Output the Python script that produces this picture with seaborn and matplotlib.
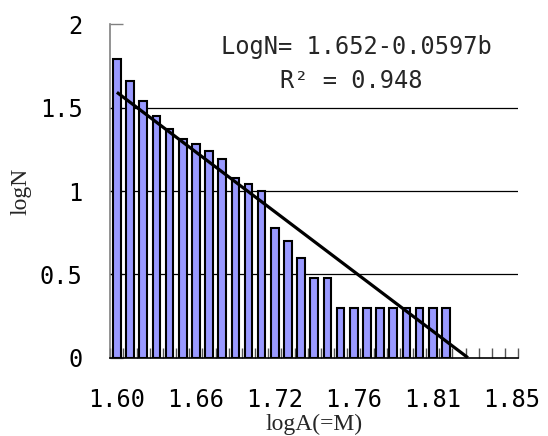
import matplotlib

matplotlib.use("Agg")
import matplotlib.pyplot as plt
import numpy as np
import pandas as pd
import seaborn as sns

# logN per magnitude class, classes beyond the data are empty
log_n = [1.79, 1.66, 1.54, 1.45, 1.37, 1.31, 1.28, 1.24, 1.19, 1.08, 1.04, 1.00,
         0.78, 0.70, 0.60, 0.48, 0.48,
         0.30, 0.30, 0.30, 0.30, 0.30, 0.30, 0.30, 0.30, 0.30]
n_classes = 31
tick_labels = ["1.60", "1.66", "1.72", "1.76", "1.81", "1.85"]
label_every = 6

# trend line from the chart label: LogN = a + b_slope * b
intercept = 1.652
slope = -0.0597
r_squared = 0.948

df = pd.DataFrame({"cls": np.arange(len(log_n)), "logN": log_n})

sns.set_theme(style="white")
mono = ["DejaVu Sans Mono"]
serif = ["Liberation Serif", "DejaVu Serif"]

fig = plt.figure(figsize=(5.48, 4.36), dpi=100)
ax = fig.add_axes([0.2013, 0.1796, 0.7445, 0.7645])

sns.barplot(data=df, x="cls", y="logN", native_scale=True, width=0.58,
            color="#9999FF", edgecolor="black", linewidth=1.5, saturation=1,
            ax=ax, zorder=3)

# trend line, from the first class to where it reaches zero
b = np.linspace(1, -intercept / slope, 50)
ax.plot(b - 1, intercept + slope * b, color="black", lw=2.3, zorder=4,
        solid_capstyle="butt")

ax.set_xlim(-0.5, n_classes - 0.5)
ax.set_ylim(0, 2)

for v in [0.5, 1.0, 1.5]:
    ax.axhline(v, color="black", lw=0.9, zorder=1)

ax.set_yticks([0, 0.5, 1, 1.5, 2])
ax.set_yticklabels(["0", "0.5", "1", "1.5", "2"], fontfamily=mono, fontsize=17)
ax.set_xticks(range(0, n_classes, label_every))
ax.set_xticklabels(tick_labels, fontfamily=mono, fontsize=17)
ax.set_xticks(np.arange(-0.5, n_classes, 1), minor=True)
ax.tick_params(axis="x", which="major", bottom=True, length=0, pad=22,
               colors="black")
ax.tick_params(axis="x", which="minor", bottom=True, direction="in", length=7,
               width=1, color="#555555")
ax.tick_params(axis="y", left=True, direction="in", length=9, width=1,
               color="#808080", pad=20, labelcolor="black")

ax.set_xlabel("logA(=M)", fontfamily=serif, fontsize=17, labelpad=1)
ax.set_ylabel("logN", fontfamily=serif, fontsize=17, labelpad=6)

for s in ["top", "right"]:
    ax.spines[s].set_visible(False)
ax.spines["left"].set_color("#808080")
ax.spines["left"].set_linewidth(1.2)
ax.spines["bottom"].set_color("black")
ax.spines["bottom"].set_linewidth(1.2)

ax.text(0.602, 0.932, f"LogN= {intercept}{slope}b", transform=ax.transAxes,
        ha="center", va="center", fontfamily=mono, fontsize=17, zorder=5)
ax.text(0.59, 0.83, f"R\u00b2 = {r_squared}", transform=ax.transAxes,
        ha="center", va="center", fontfamily=mono, fontsize=17, zorder=5)

fig.savefig("out.png", dpi=100)
plt.close(fig)
